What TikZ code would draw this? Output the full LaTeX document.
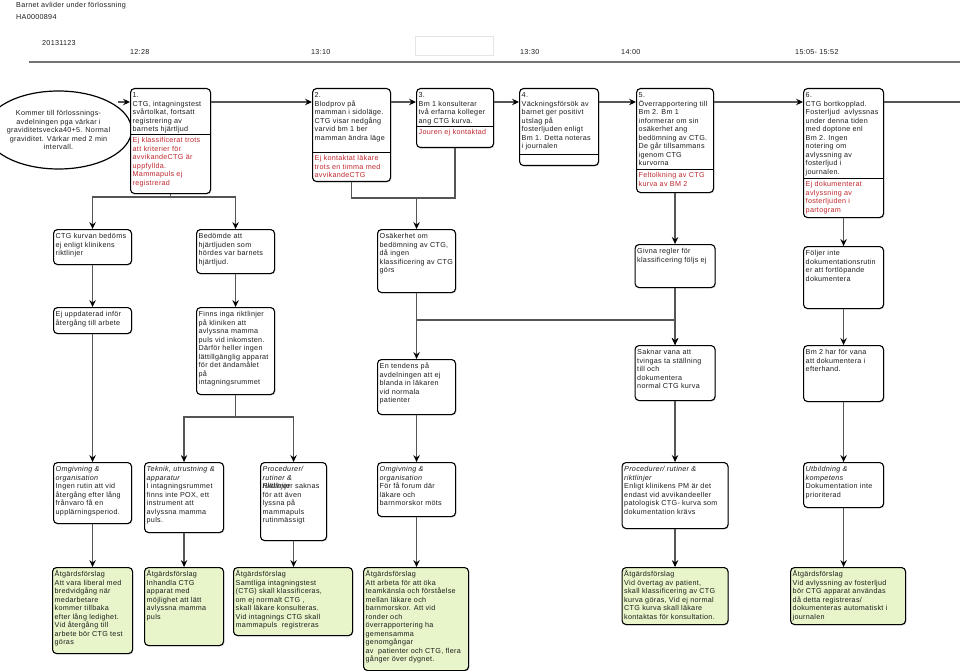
\documentclass[tikz,border=0pt]{standalone}
\usepackage{fontspec}
\setmainfont{Liberation Sans}[LetterSpace=4.0]
\usetikzlibrary{arrows.meta,shadows,shapes.geometric}
\definecolor{redtxt}{RGB}{192,39,45}
\definecolor{greenfill}{RGB}{232,245,202}
\definecolor{linegray}{RGB}{85,85,85}
\definecolor{ink}{RGB}{28,28,28}
\newcommand\firstln{\rule{0pt}{6pt}}
% box with black part and red part: name,x,y,w,h,divider y,black text,red text
\newcommand\evbox[8]{%
  \node[box,minimum width=#4pt,minimum height=#5pt,anchor=north west] (#1) at (#2,#3) {};
  \draw[divline] (#1.west |- #2,#6) -- (#1.east |- #2,#6);
  \node[txt] (#1-t) at ([xshift=2.5pt,yshift=-3.5pt]#1.north west) {\firstln#7};
  \node[rtxt] (#1-r) at ([xshift=2.5pt,yshift=-2.5pt]#2,#6) {\firstln#8};
}
% plain box: name,x,y,w,h,text
\newcommand\plbox[6]{%
  \node[box,minimum width=#4pt,minimum height=#5pt,anchor=north west] (#1) at (#2,#3) {};
  \node[txt] (#1-t) at ([xshift=2.5pt,yshift=-3.5pt]#1.north west) {\firstln#6};
}
% green box: name,x,y,w,h,text
\newcommand\grbox[6]{%
  \node[box,fill=greenfill,minimum width=#4pt,minimum height=#5pt,anchor=north west] (#1) at (#2,#3) {};
  \node[txt] (#1-t) at ([xshift=2.5pt,yshift=-3.5pt]#1.north west) {\firstln#6};
}
\begin{document}
\begin{tikzpicture}[x=1pt,y=-1pt,
  every node/.style={font=\fontsize{7.2}{8.5}\selectfont, inner sep=0pt, text=ink},
  box/.style={draw=black, line width=1.1pt, rounded corners=4pt, fill=white,
    drop shadow={shadow xshift=0.9pt, shadow yshift=-0.9pt, opacity=0.35}},
  divline/.style={draw=black, line width=0.9pt},
  txt/.style={anchor=north west, align=left},
  rtxt/.style={txt, text=redtxt},
  conn/.style={draw=linegray, line width=1.2pt},
  arr/.style={conn, -{Stealth[length=7pt,width=6.5pt,inset=2.5pt,black]}},
]
\useasboundingbox (0,0) rectangle (960,671);

% header
\node[anchor=base west] (title) at (16,8) {Barnet avlider under förlossning};
\node[anchor=base west] (caseid) at (16,20) {HA0000894};
\node[anchor=base west] (date) at (42,46) {20131123};
\node[anchor=base west] (tA) at (130,55) {12:28};
\node[anchor=base west] (tB) at (311,55) {13:10};
\node[anchor=base west] (tC) at (520,55) {13:30};
\node[anchor=base west] (tD) at (621,55) {14:00};
\node[anchor=base west] (tE) at (795,55) {15:05- 15:52};
\node[draw=black!10, line width=0.6pt, minimum width=78pt, minimum height=19pt, anchor=north west] (blank) at (415,36) {};
\coordinate (tl0) at (29,62);
\coordinate (tl1) at (960,62);
\draw[line width=1.6pt, draw=black!55] (tl0) -- (tl1);

% start ellipse
\node[ellipse, draw=black, line width=1.2pt, minimum width=115pt, minimum height=78pt, align=center] (intro) at (58.5,130)
  {Kommer till förlossnings-\\avdelningen pga värkar i\\graviditetsvecka40+5. Normal\\graviditet. Värkar med 2 min\\intervall.};

% row 1 events
\evbox{b1}{130}{88}{80}{105}{134}{1.\\CTG, intagningstest\\svårtolkat, fortsatt\\registrering av\\barnets hjärtljud}
  {Ej klassificerat trots\\att kriterier för\\avvikandeCTG är\\uppfyllda.\\Mammapuls ej\\registrerad}
\evbox{b2}{312}{88}{78}{93}{152}{2.\\Blodprov på\\mamman i sidoläge.\\CTG visar nedgång\\varvid bm 1 ber\\mamman ändra läge}
  {Ej kontaktat läkare\\trots en timma med\\avvikandeCTG}
\evbox{b3}{416}{88}{77}{59}{126}{3.\\Bm 1 konsulterar\\två erfarna kolleger\\ang CTG kurva.}
  {Jouren ej kontaktad}
\evbox{b4}{519}{88}{79}{77}{154}{4.\\Väckningsförsök av\\barnet ger positivt\\utslag på\\fosterljuden enligt\\Bm 1. Detta noteras\\i journalen}
  {}
\evbox{b5}{636}{88}{77}{104}{169}{5.\\Överrapportering till\\Bm 2. Bm 1\\informerar om sin\\osäkerhet ang\\bedömning av CTG.\\De går tillsammans\\igenom CTG\\kurvorna}
  {Feltolkning av CTG\\kurva av BM 2}
\evbox{b6}{803}{88}{80}{129}{178}{6.\\CTG bortkopplad.\\Fosterljud\ \ avlyssnas\\under denna tiden\\med doptone enl\\Bm 2. Ingen\\notering om\\avlyssning av\\fosterljud i\\journalen.}
  {Ej dokumenterat\\avlyssning av\\fosterljuden i\\partogram}

% row 2
\plbox{ctgk}{53}{229}{78}{35}{CTG kurvan bedöms\\ej enligt klinikens\\riktlinjer}
\plbox{bed}{196}{229}{78}{44}{Bedömde att\\hjärtljuden som\\hördes var barnets\\hjärtljud.}
\plbox{osak}{377}{229}{78}{63}{Osäkerhet om\\bedömning av CTG,\\då ingen\\klassificering av CTG\\görs}
\plbox{givna}{634.5}{244}{80}{43}{Givna regler för\\klassificering följs ej}
\plbox{foljer}{803}{246}{80}{62}{Följer inte\\dokumentationsrutin\\er att fortlöpande\\dokumentera}

% row 3
\plbox{ejupp}{53}{307}{78}{26}{Ej uppdaterad inför\\återgång till arbete}
\plbox{finns}{196}{307}{78}{87}{Finns inga riktlinjer\\på kliniken att\\avlyssna mamma\\puls vid inkomsten.\\Därför heller ingen\\lättillgänglig apparat\\för det ändamålet\\på\\intagningsrummet}
\plbox{tendens}{377}{359}{78}{55}{En tendens på\\avdelningen att ej\\blanda in läkaren\\vid normala\\patienter}
\plbox{saknar}{634.5}{345}{80}{55}{Saknar vana att\\tvingas ta ställning\\till och\\dokumentera\\normal CTG kurva}
\plbox{bmtwo}{803}{345}{80}{56}{Bm 2 har för vana\\att dokumentera i\\efterhand.}

% row 4 (categories)
\plbox{catA}{53}{462}{78}{61}{\textit{Omgivning \&}\\\textit{organisation}\\Ingen rutin att vid\\återgång efter lång\\frånvaro få en\\upplärningsperiod.}
\plbox{catB}{144}{462}{79}{70}{\textit{Teknik, utrustning \&}\\\textit{apparatur}\\I intagningsrummet\\finns inte POX, ett\\instrument att\\avlyssna mamma\\puls.}
\plbox{catC}{260}{462}{66}{78}{\textit{Procedurer/}\\\textit{rutiner \&}\\\textit{riktlinjer}}
\node[txt] (catC-b) at ([xshift=2.5pt,yshift=-20.5pt]catC.north west) {\firstln Riktlinjer saknas\\för att även\\lyssna på\\mammapuls\\rutinmässigt};
\plbox{catD}{377}{462}{78}{54}{\textit{Omgivning \&}\\\textit{organisation}\\För få forum där\\läkare och\\barnmorskor möts}
\plbox{catE}{621.5}{462}{106}{66}{\textit{Procedurer/ rutiner \&}\\\textit{riktlinjer}\\Enligt klinikens PM är det\\endast vid avvikandeeller\\patologisk CTG- kurva som\\dokumentation krävs}
\plbox{catF}{803}{462}{80}{45}{\textit{Utbildning \&}\\\textit{kompetens}\\Dokumentation inte\\prioriterad}

% row 5 (proposals)
\grbox{gA}{52}{567}{80}{86}{Åtgärdsförslag\\Att vara liberal med\\bredvidgång när\\medarbetare\\kommer tillbaka\\efter lång ledighet.\\Vid återgång till\\arbete bör CTG test\\göras}
\grbox{gB}{144}{567}{79}{78}{Åtgärdsförslag\\Inhandla CTG\\apparat med\\möjlighet att lätt\\avlyssna mamma\\puls}
\grbox{gC}{233}{567}{119}{68}{Åtgärdsförslag\\Samtliga intagningstest\\(CTG) skall klassificeras,\\om ej normalt CTG ,\\skall läkare konsulteras.\\Vid intagnings CTG skall\\mammapuls\ \ registreras}
\grbox{gD}{363}{567}{105}{103}{Åtgärdsförslag\\Att arbeta för att öka\\teamkänsla och förståelse\\mellan läkare och\\barnmorskor. Att vid\\ronder och\\överrapportering ha\\gemensamma\\genomgångar\\av\ \ patienter och CTG, flera\\gånger över dygnet.}
\grbox{gE}{621.5}{567}{106}{57}{Åtgärdsförslag\\Vid övertag av patient,\\skall klassificering av CTG\\kurva göras, Vid ej normal\\CTG kurva skall läkare\\kontaktas för konsultation.}
\grbox{gF}{790}{567}{115}{57}{Åtgärdsförslag\\Vid avlyssning av fosterljud\\bör CTG apparat användas\\då detta registreras/\\dokumenteras automatiskt i\\journalen}

% ---- connectors ----
\coordinate (start) at (118,102);
\coordinate (exit) at (960,102);
\coordinate (jA) at (0,197);
\coordinate (jB) at (0,198);
\coordinate (jC) at (0,320);
\coordinate (jD) at (0,417);

\draw[arr] (start) -- (start -| b1.west);
\draw[arr] (b1.east |- start) -- (b2.west |- start);
\draw[arr] (b2.east |- start) -- (b3.west |- start);
\draw[arr] (b3.east |- start) -- (b4.west |- start);
\draw[arr] (b4.east |- start) -- (b5.west |- start);
\draw[arr] (b5.east |- start) -- (b6.west |- start);
\draw[conn] (b6.east |- start) -- (exit);

\draw[arr] (b1.south) -- (b1.south |- jA) -| (ctgk.north);
\draw[arr] (b1.south) -- (b1.south |- jA) -| (bed.north);
\draw[conn] (b2.south) -- (b2.south |- jB) -| (b3.south);
\draw[arr] (osak.north |- jB) -- (osak.north);
\draw[arr] (b5.south) -- (b5.south |- givna.north);
\draw[arr] (b6.south) -- (b6.south |- foljer.north);

\draw[arr] (ctgk.south) -- (ctgk.south |- ejupp.north);
\draw[arr] (bed.south) -- (bed.south |- finns.north);
\draw[arr] (osak.south) -- (osak.south |- tendens.north);
\draw[arr] (osak.south) -- (osak.south |- jC) -| (saknar.north);
\draw[arr] (givna.south) -- (givna.south |- saknar.north);
\draw[arr] (foljer.south) -- (foljer.south |- bmtwo.north);

\draw[arr] (ejupp.south) -- (ejupp.south |- catA.north);
\draw[arr] (finns.south) -- (finns.south |- jD) -| (catB.north);
\draw[arr] (finns.south) -- (finns.south |- jD) -| (catC.north);
\draw[arr] (tendens.south) -- (tendens.south |- catD.north);
\draw[arr] (saknar.south) -- (saknar.south |- catE.north);
\draw[arr] (bmtwo.south) -- (bmtwo.south |- catF.north);

\draw[arr] (catA.south) -- (catA.south |- gA.north);
\draw[arr] (catB.south) -- (catB.south |- gB.north);
\draw[arr] (catC.south) -- (catC.south |- gC.north);
\draw[arr] (catD.south) -- (catD.south |- gD.north);
\draw[arr] (catE.south) -- (catE.south |- gE.north);
\draw[arr] (catF.south) -- (catF.south |- gF.north);
\end{tikzpicture}
\end{document}
